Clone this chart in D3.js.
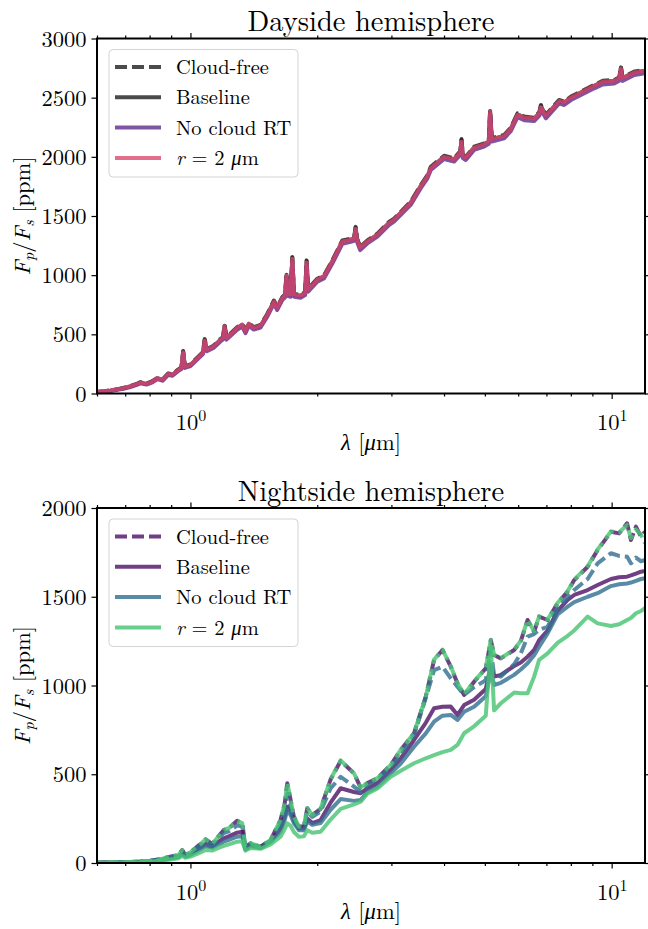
<!DOCTYPE html>
<html><head><meta charset="utf-8">
<script src="https://cdn.jsdelivr.net/npm/d3@7"></script>
<style>body{margin:0;background:#fff}</style>
</head><body><svg id="c" width="648" height="929"></svg>
<script>
// ---------- DATA ----------
const dayWavelengths = [
 0.601,0.625,0.645,0.671,0.693,0.720,0.748,0.761,0.786,0.812,0.835,0.858,
 0.886,0.906,0.936,0.952,0.961,0.970,1.000,1.039,1.071,1.081,1.094,1.134,
 1.178,1.195,1.205,1.218,1.291,1.327,1.351,1.376,1.414,1.467,1.522,1.578,
 1.607,1.652,1.677,1.691,1.705,1.729,1.745,1.762,1.826,1.872,1.887,1.903,
 2.001,2.075,2.172,2.294,2.401,2.447,2.467,2.488,2.529,2.630,2.779,2.960,
 3.043,3.333,3.522,3.653,3.721,4.001,4.226,4.372,4.401,4.432,4.505,4.714,
 4.980,5.109,5.146,5.194,5.555,5.762,5.978,6.199,6.546,6.736,6.792,6.979,
 7.507,7.716,8.005,8.453,9.092,9.520,10.14,10.43,10.52,10.61,11.32,12.0];
const dayCloudFree = [
 14,20,26,37,47,63,84,96,84,104,133,118,
 170,162,204,220,360,230,246,304,352,460,376,404,
 460,478,580,476,560,588,532,596,560,580,672,786,
 730,815,838,1012,848,843,1154,843,834,857,1125,885,
 970,998,1125,1294,1309,1318,1408,1308,1238,1294,1351,1450,
 1478,1620,1761,1845,1916,2009,1987,2048,2150,2018,2001,2086,
 2114,2138,2396,2158,2184,2247,2368,2340,2331,2378,2438,2354,
 2481,2467,2509,2552,2608,2642,2650,2673,2764,2673,2721,2735];
const dayBaseline = [
 12,18,24,35,44,60,80,92,80,100,129,114,
 165,157,199,215,354,225,241,298,345,453,369,397,
 453,470,572,468,553,581,524,589,553,572,665,778,
 722,807,830,1004,840,835,1146,835,826,849,1117,877,
 962,990,1117,1286,1301,1310,1400,1300,1230,1286,1343,1442,
 1470,1612,1753,1837,1908,2001,1979,2040,2142,2010,1993,2078,
 2106,2130,2388,2150,2176,2239,2360,2332,2323,2370,2430,2346,
 2473,2459,2501,2544,2600,2634,2642,2665,2756,2665,2713,2727];
const dayNoCloudRT = [
 10,16,21,31,40,55,75,86,76,95,122,108,
 158,150,191,207,335,216,232,288,334,430,357,385,
 440,457,548,455,539,566,510,574,540,558,650,760,
 706,790,813,970,823,818,1100,818,810,832,1080,860,
 945,972,1098,1265,1282,1290,1370,1280,1212,1268,1325,1424,
 1452,1594,1735,1818,1888,1982,1960,2018,2110,1990,1973,2058,
 2086,2110,2350,2130,2156,2218,2335,2310,2302,2348,2400,2325,
 2452,2438,2480,2523,2579,2612,2620,2643,2725,2642,2692,2707];
const dayR2 = [
 13,19,25,36,45,61,81,92,81,101,129,115,
 166,158,199,216,348,226,242,298,346,448,370,398,
 454,471,566,469,554,582,526,589,554,573,665,776,
 723,807,830,995,840,836,1138,836,827,850,1108,878,
 963,991,1117,1285,1300,1310,1393,1300,1232,1286,1343,1442,
 1470,1612,1752,1836,1906,2000,1980,2038,2128,2010,1994,2078,
 2106,2130,2378,2150,2176,2238,2356,2332,2324,2370,2420,2347,
 2472,2460,2500,2544,2600,2634,2642,2665,2745,2665,2713,2728];

const nightWavelengths = [
 0.601,0.682,0.761,0.803,0.849,0.896,0.936,0.956,0.973,1.000,
 1.037,1.062,1.086,1.126,1.166,1.200,1.233,1.291,1.327,1.351,
 1.389,1.467,1.550,1.636,1.673,1.698,1.729,1.760,1.809,1.859,
 1.894,1.947,2.037,2.151,2.273,2.445,2.536,2.630,2.779,2.988,
 3.157,3.395,3.620,3.788,3.966,4.150,4.305,4.464,4.714,5.025,
 5.166,5.259,5.457,5.868,6.085,6.315,6.546,6.728,7.046,7.439,
 7.862,8.150,8.770,9.262,9.961,10.42,10.88,11.11,11.42,11.74,12.0];
const nightCloudFreeBaseline = [
 2,4,8,13,22,36,45,73,45,60,
 92,110,133,107,150,186,195,238,224,92,
 111,92,130,242,330,449,355,261,205,205,
 308,270,305,470,575,505,425,450,477,552,
 637,731,937,1144,1200,1106,1012,947,1021,1097,
 1256,1172,1153,1200,1250,1369,1303,1388,1369,1463,
 1530,1594,1669,1763,1866,1857,1914,1820,1895,1838,1866];
const nightCloudFreeNoCloudRT = [
 2,4,8,13,21,34,43,66,43,57,
 86,102,122,100,138,168,178,212,205,88,
 106,90,126,225,300,390,320,250,200,200,
 290,260,290,420,486,430,400,440,470,540,
 610,720,930,1087,1106,1040,993,947,990,1030,
 1200,1060,1050,1120,1180,1275,1290,1313,1331,1440,
 1500,1538,1600,1688,1745,1730,1726,1688,1720,1700,1707];
const nightCloudFreeR2 = [
 2,4,8,13,22,36,45,72,46,60,
 92,110,134,108,150,186,196,238,225,93,
 111,92,130,242,332,452,356,262,206,206,
 310,270,306,472,578,505,426,450,478,553,
 638,732,936,1146,1202,1108,1014,950,1022,1098,
 1258,1173,1154,1202,1252,1370,1305,1390,1372,1465,
 1532,1596,1672,1766,1868,1862,1905,1830,1880,1850,1800];
const nightBaseline = [
 1,3,6,10,17,28,36,55,40,50,
 77,92,107,92,120,139,150,171,176,80,
 100,88,125,195,260,317,290,240,195,195,
 250,225,242,340,421,400,393,420,450,524,
 590,693,790,872,880,881,834,890,920,980,
 1110,1050,1060,1110,1130,1162,1200,1256,1310,1420,
 1482,1510,1538,1566,1600,1610,1613,1620,1630,1641,1645];
const nightNoCloudRT = [
 1,3,6,10,15,25,33,50,36,45,
 65,80,95,85,105,120,130,148,150,75,
 95,85,118,176,240,299,270,225,185,185,
 235,215,225,300,360,350,355,400,430,505,
 560,655,730,796,830,834,806,852,880,940,
 1080,1003,1015,1060,1090,1125,1170,1219,1294,1400,
 1444,1470,1500,1520,1560,1570,1575,1580,1590,1600,1604];
const nightR2 = [
 1,3,5,9,12,20,27,40,30,36,
 51,62,73,70,85,96,105,120,122,70,
 85,80,105,148,190,224,210,175,148,150,
 185,170,176,245,305,330,345,390,420,486,
 520,562,590,608,625,637,665,731,770,830,
 1220,860,900,960,956,956,1050,1144,1181,1240,
 1280,1310,1388,1350,1335,1345,1369,1380,1407,1420,1435];

const xMajorTicks = [1, 10];
const xMinorTicks = [0.6,0.7,0.8,0.9,2,3,4,5,6,7,8,9];
const dayYTicks = [0,500,1000,1500,2000,2500,3000];
const nightYTicks = [0,500,1000,1500,2000];
const legendLabels = ["Cloud-free","Baseline","No cloud RT","r = 2 μm"];
const panelTitles = ["Dayside hemisphere","Nightside hemisphere"];

// ---------- DRAW ----------
const svg = d3.select("#c");
const FONT = '"Latin Modern Roman"';
const L = 97, R = 645;
const LW = 4;

function panel(opt) {
  const g = svg.append("g");
  const x = d3.scaleLog().domain([0.6, 12]).range([L, R]);
  const y = d3.scaleLinear().domain([0, opt.ymax]).range([opt.bottom, opt.top]);
  const clipId = "clip" + opt.id;
  g.append("clipPath").attr("id", clipId).append("rect")
    .attr("x", L).attr("y", opt.top).attr("width", R - L).attr("height", opt.bottom - opt.top);

  const line = d3.line().x(d => x(d[0])).y(d => y(d[1]));
  const lines = g.append("g").attr("clip-path", `url(#${clipId})`);
  opt.series.forEach(s => {
    lines.append("path")
      .datum(d3.zip(opt.wl, s.values))
      .attr("d", line)
      .attr("fill", "none")
      .attr("stroke", s.color)
      .attr("stroke-opacity", opt.alpha)
      .attr("stroke-width", LW)
      .attr("stroke-linejoin", "round")
      .attr("stroke-linecap", s.dashed ? "butt" : "round")
      .attr("stroke-dasharray", s.dashed ? "12,5" : null)
      .attr("stroke-dashoffset", s.offset || 0);
  });

  const styleAxis = sel => { sel.select(".domain").remove(); sel.selectAll("line").attr("stroke", "#000").attr("stroke-width", 1.2); };
  const bx = g.append("g").attr("transform", `translate(0,${opt.bottom})`)
    .call(d3.axisBottom(x).tickValues(xMajorTicks).tickSize(5.5).tickPadding(6).tickFormat(""));
  styleAxis(bx);
  bx.selectAll(".tick text").each(function(d) {
    const t = d3.select(this).style("font-family", FONT).attr("font-size", 22.5).attr("fill", "#000")
      .attr("dy", null).attr("y", 36.5);
    t.append("tspan").text("10");
    t.append("tspan").attr("dy", -9).attr("font-size", 16).text(Math.round(Math.log10(d)));
  });
  g.append("g").attr("transform", `translate(0,${opt.bottom})`)
    .call(d3.axisBottom(x).tickValues(xMinorTicks).tickSize(3).tickFormat("")).call(styleAxis);
  g.append("g").attr("transform", `translate(0,${opt.top})`)
    .call(d3.axisTop(x).tickValues(xMajorTicks).tickSize(5.5).tickFormat("")).call(styleAxis);
  g.append("g").attr("transform", `translate(0,${opt.top})`)
    .call(d3.axisTop(x).tickValues(xMinorTicks).tickSize(3).tickFormat("")).call(styleAxis);

  const ly = g.append("g").attr("transform", `translate(${L},0)`)
    .call(d3.axisLeft(y).tickValues(opt.yticks).tickSize(5.5).tickPadding(5).tickFormat(d3.format("d")));
  styleAxis(ly);
  ly.selectAll(".tick text").style("font-family", FONT).attr("font-size", 22.5).attr("fill", "#000").attr("dy", "0.34em");
  g.append("g").attr("transform", `translate(${R},0)`)
    .call(d3.axisRight(y).tickValues(opt.yticks).tickSize(5.5).tickFormat("")).call(styleAxis);

  g.append("rect").attr("x", L).attr("y", opt.top).attr("width", R - L).attr("height", opt.bottom - opt.top)
    .attr("fill", "none").attr("stroke", "#000").attr("stroke-width", 2);

  g.append("text").attr("x", (L + R) / 2).attr("y", opt.top - 7.5).attr("text-anchor", "middle")
    .style("font-family", FONT).attr("font-size", 28.5).text(opt.title);

  const xl = g.append("text").attr("x", (L + R) / 2).attr("y", opt.bottom + 56).attr("text-anchor", "middle")
    .style("font-family", FONT).attr("font-size", 22.5);
  xl.append("tspan").attr("font-style", "italic").text("λ");
  xl.append("tspan").text(" [");
  xl.append("tspan").attr("font-style", "italic").text("μ");
  xl.append("tspan").text("m]");

  const yl = g.append("text").attr("transform", `translate(30,${(opt.top + opt.bottom) / 2}) rotate(-90)`)
    .attr("text-anchor", "middle").style("font-family", FONT).attr("font-size", 22.5);
  yl.append("tspan").attr("font-style", "italic").text("F");
  yl.append("tspan").attr("font-style", "italic").attr("font-size", 16).attr("dy", 4).text("p");
  yl.append("tspan").attr("dy", -4).text("/");
  yl.append("tspan").attr("font-style", "italic").text("F");
  yl.append("tspan").attr("font-style", "italic").attr("font-size", 16).attr("dy", 4).text("s");
  yl.append("tspan").attr("dy", -4).text(" [ppm]");

  const lg = g.append("g").attr("transform", `translate(109,${opt.top + 11})`);
  lg.append("rect").attr("width", 189).attr("height", 127.5).attr("rx", 4)
    .attr("fill", "#fff").attr("fill-opacity", 0.8).attr("stroke", "#d4d4d4").attr("stroke-width", 1);
  opt.legend.forEach((e, i) => {
    const yy = 17.5 + 30.3 * i;
    lg.append("line").attr("x1", 6).attr("x2", 52).attr("y1", yy).attr("y2", yy)
      .attr("stroke", e.color).attr("stroke-opacity", opt.alpha).attr("stroke-width", LW)
      .attr("stroke-dasharray", e.dashed ? "12,5" : null);
    const t = lg.append("text").attr("x", 67).attr("y", yy).attr("dy", "0.35em")
      .style("font-family", FONT).attr("font-size", 20.5);
    if (e.label.startsWith("r = ")) {
      t.append("tspan").attr("font-style", "italic").text("r");
      t.append("tspan").text(" = 2 ");
      t.append("tspan").attr("font-style", "italic").text("μ");
      t.append("tspan").text("m");
    } else t.text(e.label);
  });
}

const dayC = { gray: "#1e1e1e", purple: "#5f2a8c", pink: "#d94a6e" };
const nightC = { purple: "#521568", blue: "#347093", green: "#49c474" };

panel({
  id: "day", top: 38.5, bottom: 393.5, ymax: 3000, yticks: dayYTicks, title: panelTitles[0],
  wl: dayWavelengths, alpha: 0.8,
  series: [
    { values: dayCloudFree, color: dayC.gray, dashed: true },
    { values: dayBaseline, color: dayC.gray },
    { values: dayNoCloudRT, color: dayC.purple },
    { values: dayR2, color: dayC.pink }
  ],
  legend: [
    { label: legendLabels[0], color: dayC.gray, dashed: true },
    { label: legendLabels[1], color: dayC.gray },
    { label: legendLabels[2], color: dayC.purple },
    { label: legendLabels[3], color: dayC.pink }
  ]
});

panel({
  id: "night", top: 508, bottom: 863, ymax: 2000, yticks: nightYTicks, title: panelTitles[1],
  wl: nightWavelengths, alpha: 0.82,
  series: [
    { values: nightCloudFreeBaseline, color: nightC.purple, dashed: true },
    { values: nightBaseline, color: nightC.purple },
    { values: nightCloudFreeNoCloudRT, color: nightC.blue, dashed: true },
    { values: nightNoCloudRT, color: nightC.blue },
    { values: nightCloudFreeR2, color: nightC.green, dashed: true, offset: 8 },
    { values: nightR2, color: nightC.green }
  ],
  legend: [
    { label: legendLabels[0], color: nightC.purple, dashed: true },
    { label: legendLabels[1], color: nightC.purple },
    { label: legendLabels[2], color: nightC.blue },
    { label: legendLabels[3], color: nightC.green }
  ]
});
</script>
</body></html>
